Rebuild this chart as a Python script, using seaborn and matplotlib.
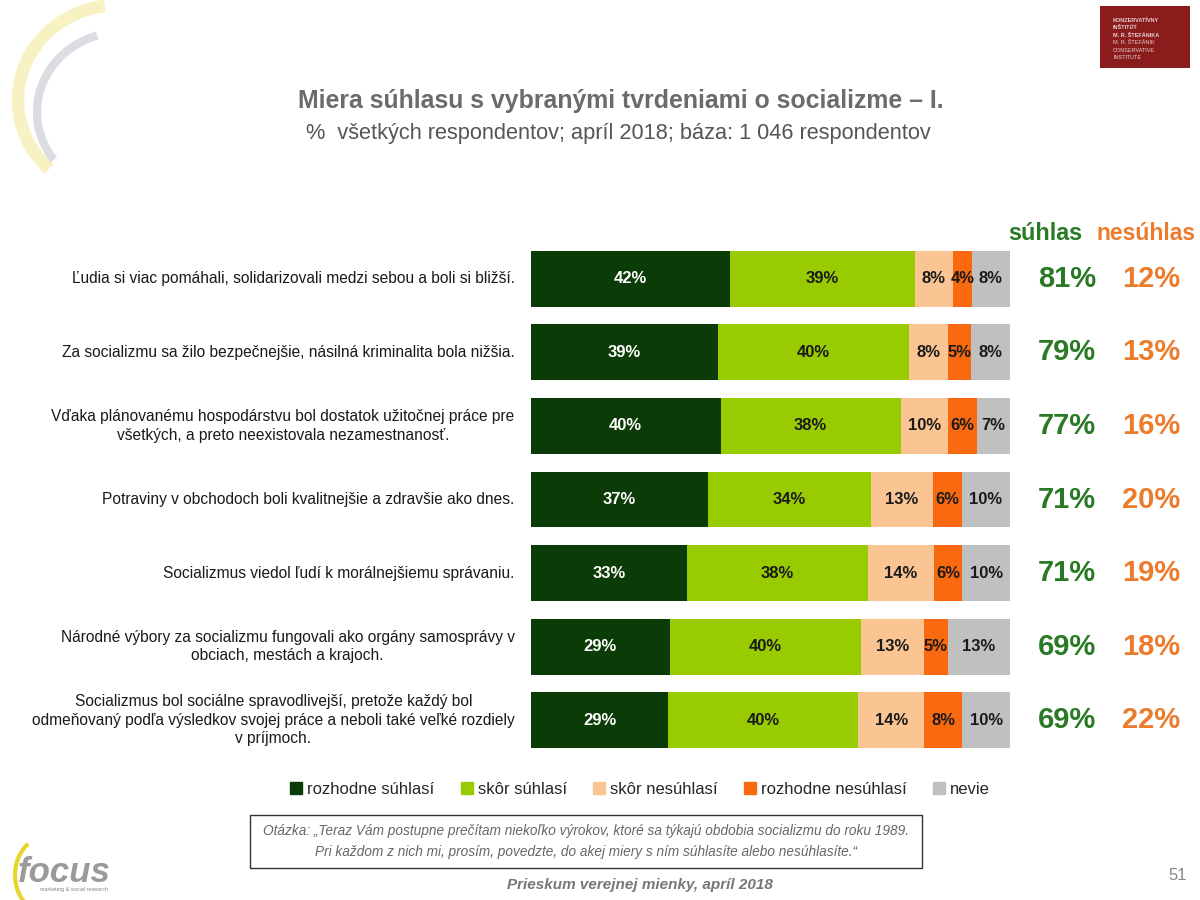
import numpy as np
import pandas as pd
import matplotlib
matplotlib.use("Agg")
import matplotlib.pyplot as plt
import seaborn as sns
from matplotlib.patches import Rectangle, Arc

statements = [
    "Ľudia si viac pomáhali, solidarizovali medzi sebou a boli si bližší.",
    "Za socializmu sa žilo bezpečnejšie, násilná kriminalita bola nižšia.",
    "Vďaka plánovanému hospodárstvu bol dostatok užitočnej práce pre\nvšetkých, a preto neexistovala nezamestnanosť.",
    "Potraviny v obchodoch boli kvalitnejšie a zdravšie ako dnes.",
    "Socializmus viedol ľudí k morálnejšiemu správaniu.",
    "Národné výbory za socializmu fungovali ako orgány samosprávy v\nobciach, mestách a krajoch.",
    "Socializmus bol sociálne spravodlivejší, pretože každý bol\nodmeňovaný podľa výsledkov svojej práce a neboli také veľké rozdiely\nv príjmoch.",
]
rozhodne_suhlasi = [42, 39, 40, 37, 33, 29, 29]
skor_suhlasi = [39, 40, 38, 34, 38, 40, 40]
skor_nesuhlasi = [8, 8, 10, 13, 14, 13, 14]
rozhodne_nesuhlasi = [4, 5, 6, 6, 6, 5, 8]
nevie = [8, 8, 7, 10, 10, 13, 10]
suhlas = [81, 79, 77, 71, 71, 69, 69]
nesuhlas = [12, 13, 16, 20, 19, 18, 22]

series_names = ["rozhodne súhlasí", "skôr súhlasí", "skôr nesúhlasí", "rozhodne nesúhlasí", "nevie"]
colors = ["#0b3b06", "#99cc00", "#fac593", "#f96a10", "#c0c0c0"]
txt_colors = ["white", "#1a1a1a", "#1a1a1a", "#1a1a1a", "#1a1a1a"]

base = "Liberation Sans"

sns.set_theme(style="white")
plt.rcParams["font.family"] = [base, "DejaVu Sans"]

fig = plt.figure(figsize=(12, 9), dpi=100)
fig.patch.set_facecolor("white")
ax = fig.add_axes([0.4425, 0.159, 0.399, 0.572])

data = np.array([rozhodne_suhlasi, skor_suhlasi, skor_nesuhlasi, rozhodne_nesuhlasi, nevie], dtype=float)
totals = data.sum(axis=0)
norm = data / totals * 100
cum = np.cumsum(norm, axis=0)
ids = [str(i) for i in range(len(statements))]

for k in range(len(series_names) - 1, -1, -1):
    df = pd.DataFrame({"stmt": ids, "val": cum[k]})
    sns.barplot(data=df, x="val", y="stmt", orient="h", color=colors[k],
                saturation=1, width=0.76, ax=ax, linewidth=0)

for k in range(len(series_names)):
    for i in range(len(statements)):
        left = cum[k, i] - norm[k, i]
        xc = left + norm[k, i] / 2
        ax.text(xc, i, f"{int(data[k, i])}%", ha="center", va="center",
                fontsize=12, fontweight="bold", color=txt_colors[k])

ax.set_xlim(0, 100)
ax.set_ylim(6.5, -0.5)
ax.set_xlabel("")
ax.set_ylabel("")
ax.set_xticks([])
ax.set_yticks([])
for s in ax.spines.values():
    s.set_visible(False)

# statement labels
for i, s in enumerate(statements):
    ax.text(-0.034, i, s, transform=ax.get_yaxis_transform(), ha="right", va="center",
            multialignment="center", fontsize=11.2, color="#1a1a1a", linespacing=1.3)
    ax.text(1.12, i, f"{suhlas[i]}%", transform=ax.get_yaxis_transform(), ha="center",
            va="center", fontsize=21, fontweight="bold", color="#2a7a25")
    ax.text(1.295, i, f"{nesuhlas[i]}%", transform=ax.get_yaxis_transform(), ha="center",
            va="center", fontsize=21, fontweight="bold", color="#ec7b2c")

fig.text(1045 / 1200, 1 - 233 / 900, "súhlas", ha="center", va="center", fontsize=16.8,
         fontweight="bold", color="#2a7a25")
fig.text(1146 / 1200, 1 - 233 / 900, "nesúhlas", ha="center", va="center", fontsize=16.5,
         fontweight="bold", color="#ec7b2c")

# titles
fig.text(621 / 1200, 1 - 101 / 900, "Miera súhlasu s vybranými tvrdeniami o socializme – I.",
         ha="center", va="center", fontsize=17.9, fontweight="bold", color="#6b6b6b")
fig.text(618 / 1200, 1 - 134 / 900, "%  všetkých respondentov; apríl 2018; báza: 1 046 respondentov",
         ha="center", va="center", fontsize=15.7, color="#555555")

# legend
handles = [Rectangle((0, 0), 1, 1, color=c) for c in colors]
fig.legend(handles, series_names, loc="center", bbox_to_anchor=(640 / 1200, 1 - 789 / 900),
           ncol=5, frameon=False, fontsize=12, handlelength=0.7, handleheight=0.7,
           handletextpad=0.3, columnspacing=1.6)

# question box
fig.patches.append(Rectangle((250 / 1200, 1 - 868 / 900), 672 / 1200, 53 / 900,
                             transform=fig.transFigure, fill=False, edgecolor="#333333",
                             linewidth=1.0))
fig.text(586 / 1200, 1 - 831 / 900,
         "Otázka: „Teraz Vám postupne prečítam niekoľko výrokov, ktoré sa týkajú obdobia socializmu do roku 1989.",
         ha="center", va="center", fontsize=9.8, style="italic", color="#666666")
fig.text(586 / 1200, 1 - 852 / 900,
         "Pri každom z nich mi, prosím, povedzte, do akej miery s ním súhlasíte alebo nesúhlasíte.“",
         ha="center", va="center", fontsize=9.8, style="italic", color="#666666")

fig.text(640 / 1200, 1 - 885 / 900, "Prieskum verejnej mienky, apríl 2018", ha="center",
         va="center", fontsize=11, fontweight="bold", style="italic", color="#777777")
fig.text(1178 / 1200, 1 - 876 / 900, "51", ha="center", va="center", fontsize=12,
         color="#888888")

# top-right logo box
fig.patches.append(Rectangle((1100 / 1200, 1 - 68 / 900), 90 / 1200, 62 / 900,
                             transform=fig.transFigure, facecolor="#8a1c1c", edgecolor="none"))
for j, t in enumerate(["KONZERVATÍVNY", "INŠTITÚT", "M. R. ŠTEFÁNIKA", "M. R. ŠTEFÁNIK", "CONSERVATIVE", "INSTITUTE"]):
    fig.text(1113 / 1200, 1 - (20 + j * 7.5) / 900, t, ha="left", va="center", fontsize=4,
             color="#e8d0d0", fontweight="bold" if j < 3 else "normal")

# decorative swooshes
deco = fig.add_axes([0, 0, 1, 1], zorder=-1)
deco.set_xlim(0, 1200)
deco.set_ylim(900, 0)
deco.axis("off")
deco.add_patch(Arc((118, 100), 200, 190, angle=0, theta1=135, theta2=262,
                   color="#f8f2c2", linewidth=9))
deco.add_patch(Arc((122, 112), 170, 160, angle=0, theta1=145, theta2=252,
                   color="#dcdce2", linewidth=6))
# focus logo
deco.add_patch(Arc((50, 875), 70, 80, angle=0, theta1=120, theta2=235, color="#e6d52a", linewidth=3))
deco.text(18, 872, "focus", fontsize=25, fontweight="bold", style="italic", color="#9a9a9a",
          ha="left", va="center")
deco.text(40, 890, "marketing & social research", fontsize=4, color="#888888", ha="left", va="center")

fig.savefig("out.png", dpi=100, facecolor="white")
